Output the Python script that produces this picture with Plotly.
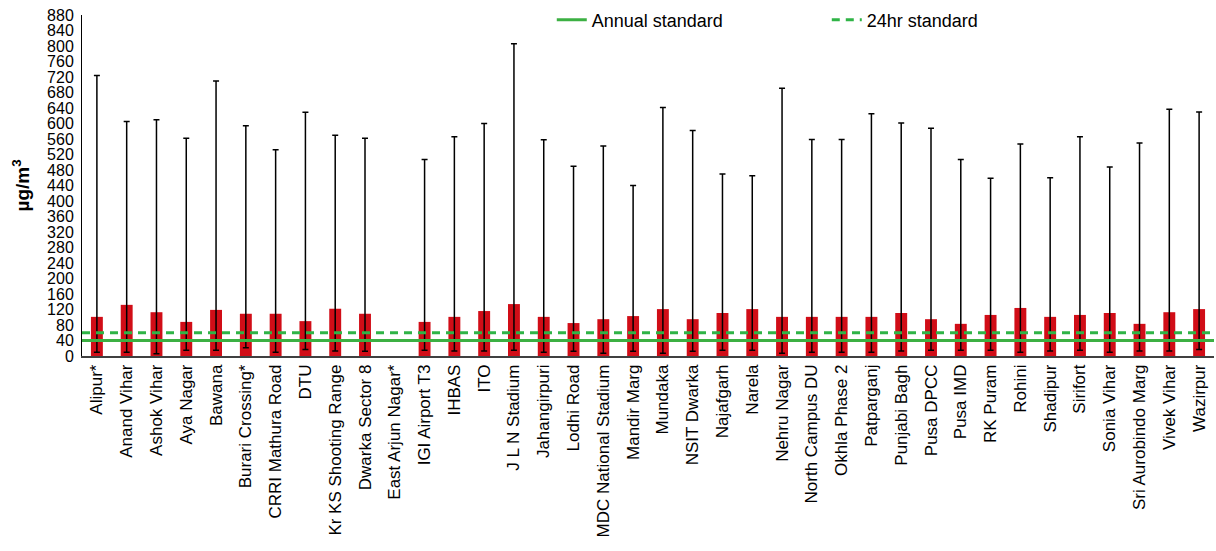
import plotly.graph_objects as go

# Monitoring stations (asterisk marks stations with incomplete records)
stations = [
    "Alipur*", "Anand Vihar", "Ashok Vihar", "Aya Nagar", "Bawana",
    "Burari Crossing*", "CRRI Mathura Road", "DTU", "Kr KS Shooting Range",
    "Dwarka Sector 8", "East Arjun Nagar*", "IGI Airport T3", "IHBAS", "ITO",
    "J L N Stadium", "Jahangirpuri", "Lodhi Road", "MDC National Stadium",
    "Mandir Marg", "Mundaka", "NSIT Dwarka", "Najafgarh", "Narela",
    "Nehru Nagar", "North Campus DU", "Okhla Phase 2", "Patparganj",
    "Punjabi Bagh", "Pusa DPCC", "Pusa IMD", "RK Puram", "Rohini",
    "Shadipur", "Sirifort", "Sonia Vihar", "Sri Aurobindo Marg",
    "Vivek Vihar", "Wazirpur",
]

# Annual mean concentration (µg/m³)
mean_conc = [
    101, 132, 113, 88, 119, 109, 109, 90, 122, 109, None, 88, 101, 116,
    134, 101, 85, 95, 103, 121, 95, 111, 121, 101, 101, 101, 101, 111,
    95, 83, 106, 124, 101, 106, 111, 83, 113, 121,
]

# Lowest daily value recorded
min_conc = [
    10, 10, 6, 15, 15, 21, 10, 17, 13, 12, None, 15, 13, 13,
    15, 10, 12, 7, 12, 7, 12, 15, 15, 7, 10, 10, 10, 13,
    15, 15, 15, 10, 13, 15, 10, 13, 13, 17,
]

# Highest daily value recorded
max_conc = [
    724, 605, 610, 562, 710, 594, 532, 629, 570, 562, None, 507, 566, 600,
    806, 558, 490, 542, 440, 641, 582, 470, 465, 691, 559, 559, 625, 601,
    588, 507, 459, 547, 460, 566, 488, 550, 637, 630,
]

# National ambient air quality standards
annual_standard = 40
daily_standard = 60

y_ticks = list(range(0, 881, 40))

err_plus = [None if m is None else hi - m for m, hi in zip(mean_conc, max_conc)]
err_minus = [None if m is None else m - lo for m, lo in zip(mean_conc, min_conc)]

FONT = "Liberation Sans Narrow, Arial Narrow, Liberation Sans, Arial, sans-serif"

fig = go.Figure()

fig.add_trace(go.Bar(
    x=stations,
    y=mean_conc,
    marker=dict(color="#d10d17", line=dict(width=0)),
    error_y=dict(
        type="data",
        symmetric=False,
        array=err_plus,
        arrayminus=err_minus,
        color="#000000",
        thickness=1.5,
        width=3,
    ),
    showlegend=False,
    hoverinfo="x+y",
))

# Standard lines run across the full plot width on an overlaid unit axis
fig.add_trace(go.Scatter(
    x=[0, 1], y=[annual_standard, annual_standard],
    xaxis="x2", mode="lines",
    line=dict(color="#3cb043", width=3),
    name="Annual standard",
))
fig.add_trace(go.Scatter(
    x=[0, 1], y=[daily_standard, daily_standard],
    xaxis="x2", mode="lines",
    line=dict(color="#2fb446", width=3, dash="8px,6px"),
    name="24hr standard",
))

fig.update_layout(
    width=1216,
    height=551,
    margin=dict(l=82, r=2, t=15, b=195),
    paper_bgcolor="white",
    plot_bgcolor="white",
    font=dict(family=FONT, color="#000000", size=16),
    bargap=0.6,
    xaxis=dict(
        type="category",
        tickangle=-90,
        tickfont=dict(size=17),
        showgrid=False,
        showline=True,
        linecolor="#404040",
        linewidth=1.5,
        ticks="",
        ticklen=0,
    ),
    xaxis2=dict(
        overlaying="x",
        range=[0, 1],
        visible=False,
        fixedrange=True,
    ),
    yaxis=dict(
        range=[0, 880],
        tickmode="array",
        tickvals=y_ticks,
        ticktext=[str(v) for v in y_ticks],
        tickfont=dict(size=16, family="Liberation Sans, Arial, sans-serif"),
        ticklabelstandoff=4,
        showgrid=False,
        zeroline=False,
        showline=True,
        linecolor="#000000",
        linewidth=1,
        ticks="",
        title=dict(text="<b>µg/m<sup>3</sup></b>", font=dict(size=19), standoff=12),
    ),
    legend=dict(
        orientation="h",
        x=0.415,
        xanchor="left",
        y=0.985,
        yanchor="middle",
        font=dict(size=18),
        entrywidth=230,
        bgcolor="rgba(0,0,0,0)",
    ),
)

fig.write_html("out.html")
